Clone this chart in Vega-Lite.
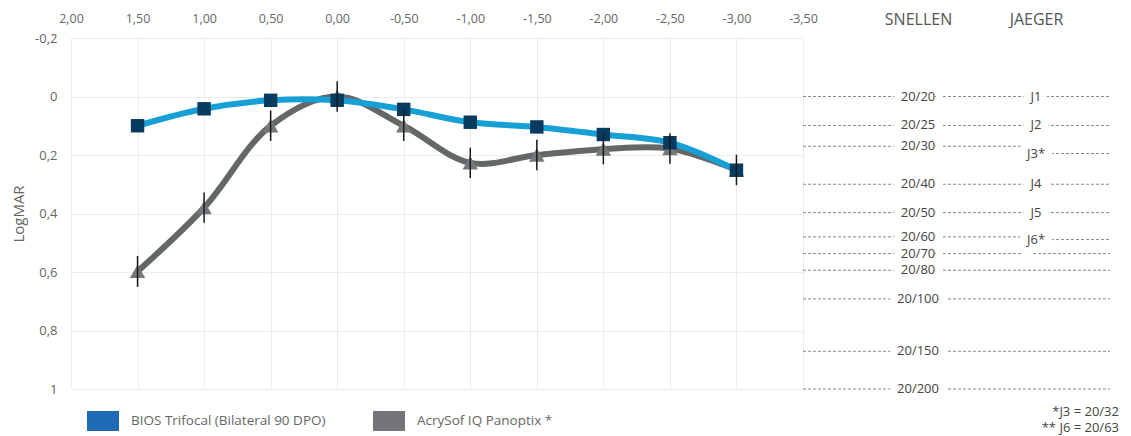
{
  "$schema": "https://vega.github.io/schema/vega-lite/v6.json",
  "background": "white",
  "padding": {"left": 11, "top": 11, "right": 2, "bottom": 0},
  "bounds": "flush",
  "spacing": 0,
  "config": {
    "font": "Open Sans",
    "view": {"stroke": null},
    "axis": {"labelFont": "Open Sans", "titleFont": "Open Sans"},
    "legend": {"labelFont": "Open Sans"}
  },
  "datasets": {
    "main": [
      {"series": "BIOS Trifocal (Bilateral 90 DPO)", "k": "B", "x": 1.5, "y": 0.100, "lo": 0.085, "hi": 0.115},
      {"series": "BIOS Trifocal (Bilateral 90 DPO)", "k": "B", "x": 1.0, "y": 0.042, "lo": 0.027, "hi": 0.057},
      {"series": "BIOS Trifocal (Bilateral 90 DPO)", "k": "B", "x": 0.5, "y": 0.013, "lo": -0.002, "hi": 0.028},
      {"series": "BIOS Trifocal (Bilateral 90 DPO)", "k": "B", "x": 0.0, "y": 0.013, "lo": -0.002, "hi": 0.028},
      {"series": "BIOS Trifocal (Bilateral 90 DPO)", "k": "B", "x": -0.5, "y": 0.044, "lo": 0.029, "hi": 0.059},
      {"series": "BIOS Trifocal (Bilateral 90 DPO)", "k": "B", "x": -1.0, "y": 0.088, "lo": 0.073, "hi": 0.103},
      {"series": "BIOS Trifocal (Bilateral 90 DPO)", "k": "B", "x": -1.5, "y": 0.104, "lo": 0.089, "hi": 0.119},
      {"series": "BIOS Trifocal (Bilateral 90 DPO)", "k": "B", "x": -2.0, "y": 0.130, "lo": 0.115, "hi": 0.145},
      {"series": "BIOS Trifocal (Bilateral 90 DPO)", "k": "B", "x": -2.5, "y": 0.158, "lo": 0.143, "hi": 0.173},
      {"series": "BIOS Trifocal (Bilateral 90 DPO)", "k": "B", "x": -3.0, "y": 0.252, "lo": 0.237, "hi": 0.267},
      {"series": "AcrySof IQ Panoptix *", "k": "A", "x": 1.5, "y": 0.598, "lo": 0.545, "hi": 0.651},
      {"series": "AcrySof IQ Panoptix *", "k": "A", "x": 1.0, "y": 0.380, "lo": 0.328, "hi": 0.432},
      {"series": "AcrySof IQ Panoptix *", "k": "A", "x": 0.5, "y": 0.100, "lo": 0.048, "hi": 0.152},
      {"series": "AcrySof IQ Panoptix *", "k": "A", "x": 0.0, "y": 0.000, "lo": -0.052, "hi": 0.052},
      {"series": "AcrySof IQ Panoptix *", "k": "A", "x": -0.5, "y": 0.100, "lo": 0.048, "hi": 0.152},
      {"series": "AcrySof IQ Panoptix *", "k": "A", "x": -1.0, "y": 0.227, "lo": 0.175, "hi": 0.279},
      {"series": "AcrySof IQ Panoptix *", "k": "A", "x": -1.5, "y": 0.200, "lo": 0.148, "hi": 0.252},
      {"series": "AcrySof IQ Panoptix *", "k": "A", "x": -2.0, "y": 0.180, "lo": 0.128, "hi": 0.232},
      {"series": "AcrySof IQ Panoptix *", "k": "A", "x": -2.5, "y": 0.178, "lo": 0.126, "hi": 0.230},
      {"series": "AcrySof IQ Panoptix *", "k": "A", "x": -3.0, "y": 0.251, "lo": 0.199, "hi": 0.303}
    ],
    "snellen": [
      {"s": "20/20", "y": 0.0, "j": "J1", "jy": 0.0},
      {"s": "20/25", "y": 0.099, "j": "J2", "jy": 0.099},
      {"s": "20/30", "y": 0.170, "j": "J3*", "jy": 0.195},
      {"s": "20/40", "y": 0.300, "j": "J4", "jy": 0.300},
      {"s": "20/50", "y": 0.397, "j": "J5", "jy": 0.397},
      {"s": "20/60", "y": 0.480, "j": "J6*", "jy": 0.489},
      {"s": "20/70", "y": 0.537, "j": null, "jy": null},
      {"s": "20/80", "y": 0.594, "j": null, "jy": null},
      {"s": "20/100", "y": 0.692, "j": null, "jy": null},
      {"s": "20/150", "y": 0.871, "j": null, "jy": null},
      {"s": "20/200", "y": 1.0, "j": null, "jy": null}
    ],
    "notes": [
      {"t": "*J3 = 20/32", "y": 1.078},
      {"t": "** J6 = 20/63", "y": 1.132}
    ]
  },
  "hconcat": [
    {
      "width": 732,
      "height": 351,
      "data": {"name": "main"},
      "layer": [
        {
          "mark": {"type": "rule", "color": "#9a9a9a", "strokeDash": [4, 3], "strokeWidth": 1.5},
          "transform": [{"filter": "datum.x === 0 && datum.k === 'B'"}],
          "encoding": {
            "x": {
              "field": "x", "type": "quantitative",
              "scale": {"domain": [-3.5, 2], "reverse": true, "nice": false, "zero": false},
              "axis": {
                "orient": "top",
                "values": [2, 1.5, 1, 0.5, 0, -0.5, -1, -1.5, -2, -2.5, -3, -3.5],
                "labelExpr": "replace(replace(format(datum.value, '.2f'), '.', ','), '\u2212', '-')",
                "grid": true, "gridColor": "#ececec", "domain": false, "ticks": false,
                "labelFontSize": 12.5, "labelColor": "#666666", "labelPadding": 13,
                "labelFlush": false, "labelOverlap": false, "title": null
              }
            },
            "y": {
              "field": "y", "type": "quantitative",
              "scale": {"domain": [-0.2, 1], "reverse": true, "nice": false, "zero": false},
              "axis": {
                "orient": "left",
                "values": [-0.2, 0, 0.2, 0.4, 0.6, 0.8, 1],
                "labelExpr": "replace(replace(format(datum.value, '~g'), '.', ','), '\u2212', '-')",
                "grid": true, "gridColor": "#ececec", "domain": false, "ticks": false,
                "labelFontSize": 13, "labelColor": "#666666", "labelPadding": 14,
                "labelOverlap": false,
                "title": "LogMAR", "titleFontSize": 15, "titleFontWeight": "normal",
                "titleColor": "#666666", "titlePadding": 8
              }
            }
          }
        },
        {
          "transform": [{"filter": "datum.k === 'A'"}],
          "mark": {"type": "line", "interpolate": "catmull-rom", "color": "#646768", "strokeWidth": 6},
          "encoding": {
            "x": {"field": "x", "type": "quantitative"},
            "y": {"field": "y", "type": "quantitative"}
          }
        },
        {
          "transform": [{"filter": "datum.k === 'A'"}],
          "mark": {"type": "point", "shape": "triangle-up", "filled": true, "color": "#75787b", "size": 240, "opacity": 1},
          "encoding": {
            "x": {"field": "x", "type": "quantitative"},
            "y": {"field": "y", "type": "quantitative"}
          }
        },
        {
          "transform": [{"filter": "datum.k === 'B'"}],
          "mark": {"type": "line", "interpolate": "catmull-rom", "color": "#16a0d5", "strokeWidth": 6},
          "encoding": {
            "x": {"field": "x", "type": "quantitative"},
            "y": {"field": "y", "type": "quantitative"}
          }
        },
        {
          "transform": [{"filter": "datum.k === 'B'"}],
          "mark": {"type": "rule", "color": "#7fcdf2", "strokeWidth": 2},
          "encoding": {
            "x": {"field": "x", "type": "quantitative"},
            "y": {"field": "lo", "type": "quantitative"},
            "y2": {"field": "hi"}
          }
        },
        {
          "transform": [{"filter": "datum.k === 'B'"}],
          "mark": {"type": "square", "filled": true, "color": "#073b5f", "size": 180, "opacity": 1},
          "encoding": {
            "x": {"field": "x", "type": "quantitative"},
            "y": {"field": "y", "type": "quantitative"}
          }
        },
        {
          "transform": [{"filter": "datum.k === 'A'"}],
          "mark": {"type": "rule", "color": "#1a1a1a", "strokeWidth": 1.5},
          "encoding": {
            "x": {"field": "x", "type": "quantitative"},
            "y": {"field": "lo", "type": "quantitative"},
            "y2": {"field": "hi"}
          }
        },
        {
          "transform": [{"filter": "datum.x > 10"}],
          "mark": {"type": "square", "opacity": 1},
          "encoding": {
            "fill": {
              "field": "series", "type": "nominal",
              "scale": {"domain": ["BIOS Trifocal (Bilateral 90 DPO)", "AcrySof IQ Panoptix *"], "range": ["#1f6bb6", "#737578"]},
              "legend": {
                "orient": "none", "legendX": 22, "legendY": 373, "direction": "horizontal",
                "title": null, "padding": 0,
                "symbolType": "M-1.6,-1H1.6V1H-1.6Z", "symbolSize": 400,
                "symbolStrokeWidth": 0, "symbolOpacity": 1,
                "labelFontSize": 13.5, "labelColor": "#666666", "labelOffset": 18,
                "labelLimit": 400, "columnPadding": 47
              }
            }
          }
        }
      ]
    },
    {
      "width": 318,
      "height": 351,
      "data": {"name": "snellen"},
      "layer": [
        {
          "transform": [{"filter": "datum.j == null"}],
          "mark": {"type": "rule", "color": "#8a8a8a", "strokeDash": [3, 2], "strokeWidth": 1},
          "encoding": {
            "x": {
              "datum": 0, "type": "quantitative",
              "scale": {"domain": [0, 318], "nice": false, "zero": false},
              "axis": {
                "orient": "top", "values": [115, 233],
                "labelExpr": "datum.value < 150 ? 'SNELLEN' : 'JAEGER'",
                "grid": false, "domain": false, "ticks": false,
                "labelFontSize": 16, "labelColor": "#555555", "labelPadding": 11,
                "labelFlush": false, "labelOverlap": false, "title": null
              }
            },
            "x2": {"datum": 307},
            "y": {
              "field": "y", "type": "quantitative",
              "scale": {"domain": [-0.2, 1], "reverse": true, "nice": false, "zero": false},
              "axis": null
            }
          }
        },
        {
          "transform": [{"filter": "datum.j != null"}],
          "mark": {"type": "rule", "color": "#8a8a8a", "strokeDash": [3, 2], "strokeWidth": 1},
          "encoding": {
            "x": {"datum": 0, "type": "quantitative"},
            "x2": {"datum": 233},
            "y": {"field": "y", "type": "quantitative"}
          }
        },
        {
          "transform": [{"filter": "datum.j != null"}],
          "mark": {"type": "rule", "color": "#8a8a8a", "strokeDash": [3, 2], "strokeWidth": 1},
          "encoding": {
            "x": {"datum": 233, "type": "quantitative"},
            "x2": {"datum": 307},
            "y": {"field": "jy", "type": "quantitative"}
          }
        },
        {
          "mark": {"type": "text", "fontSize": 13, "fill": "white", "stroke": "white", "strokeWidth": 16, "strokeJoin": "round", "baseline": "middle"},
          "encoding": {
            "x": {"datum": 115, "type": "quantitative"},
            "y": {"field": "y", "type": "quantitative"},
            "text": {"field": "s"}
          }
        },
        {
          "transform": [{"filter": "datum.j != null"}],
          "mark": {"type": "text", "fontSize": 13, "fill": "white", "stroke": "white", "strokeWidth": 16, "strokeJoin": "round", "baseline": "middle"},
          "encoding": {
            "x": {"datum": 233, "type": "quantitative"},
            "y": {"field": "jy", "type": "quantitative"},
            "text": {"field": "j"}
          }
        },
        {
          "mark": {"type": "text", "fontSize": 13, "color": "#444444", "baseline": "middle"},
          "encoding": {
            "x": {"datum": 115, "type": "quantitative"},
            "y": {"field": "y", "type": "quantitative"},
            "text": {"field": "s"}
          }
        },
        {
          "transform": [{"filter": "datum.j != null"}],
          "mark": {"type": "text", "fontSize": 13, "color": "#444444", "baseline": "middle"},
          "encoding": {
            "x": {"datum": 233, "type": "quantitative"},
            "y": {"field": "jy", "type": "quantitative"},
            "text": {"field": "j"}
          }
        },
        {
          "data": {"name": "notes"},
          "mark": {"type": "text", "fontSize": 13, "color": "#444444", "baseline": "middle", "align": "right"},
          "encoding": {
            "x": {"datum": 316, "type": "quantitative"},
            "y": {"field": "y", "type": "quantitative"},
            "text": {"field": "t"}
          }
        }
      ]
    }
  ]
}
